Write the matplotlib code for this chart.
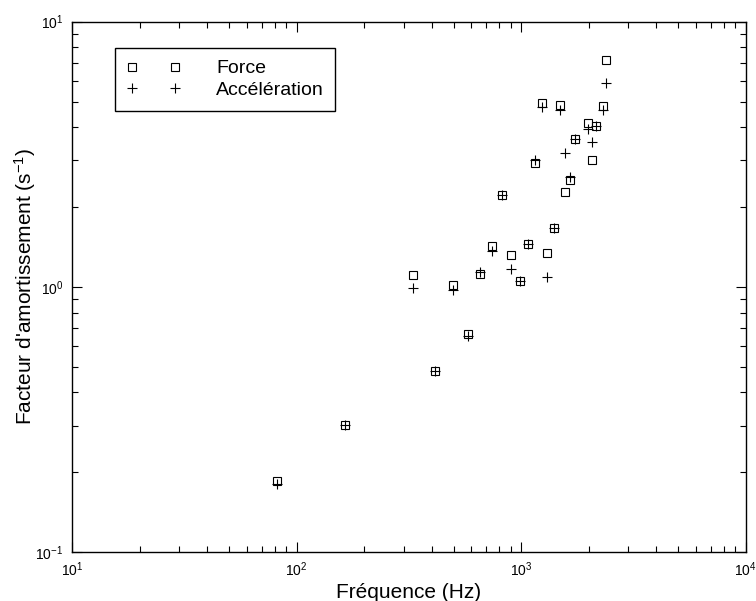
import matplotlib
matplotlib.use("Agg")
import matplotlib.pyplot as plt
import numpy as np

plt.rcParams['font.family'] = ['Liberation Sans', 'DejaVu Sans']
plt.rcParams['mathtext.fontset'] = 'custom'
plt.rcParams['mathtext.rm'] = 'Liberation Sans'
plt.rcParams['mathtext.it'] = 'Liberation Sans'
plt.rcParams['mathtext.default'] = 'regular'

# Frequencies (Hz) and damping factors (1/s)
freq = [82, 165, 330, 413, 495, 578, 658, 739, 824, 903, 988, 1072, 1156,
        1238, 1307, 1400, 1484, 1567, 1649, 1737, 1977, 2066, 2153, 2322, 2394]
force = [0.185, 0.301, 1.106, 0.482, 1.02, 0.665, 1.116, 1.42, 2.23, 1.314,
         1.05, 1.449, 2.94, 4.95, 1.337, 1.66, 4.85, 2.28, 2.53, 3.61, 4.14,
         3.02, 4.03, 4.82, 7.19]
accel = [0.181, 0.301, 0.99, 0.482, 0.977, 0.652, 1.135, 1.37, 2.23, 1.17,
         1.05, 1.449, 3.0, 4.75, 1.09, 1.66, 4.65, 3.19, 2.60, 3.61, 3.93,
         3.52, 4.03, 4.65, 5.89]
labels = ['Force', 'Accélération']

fig = plt.figure(figsize=(7.56, 6.01), dpi=100)
ax = fig.add_axes([0.0952, 0.0815, 0.8912, 0.8824])

ax.plot(freq, force, linestyle='none', marker='s', ms=5.5, mfc='none',
        mec='black', mew=0.8, label=labels[0])
ax.plot(freq, accel, linestyle='none', marker='+', ms=6.5,
        mec='black', mew=0.8, label=labels[1])

ax.set_xscale('log')
ax.set_yscale('log')
ax.set_xlim(10, 1e4)
ax.set_ylim(0.1, 10)

ax.tick_params(which='both', direction='in', top=True, right=True,
               labelsize=10, pad=6, width=0.8)
ax.tick_params(which='major', length=7)
ax.tick_params(which='minor', length=4)
for s in ax.spines.values():
    s.set_linewidth(1.0)

ax.set_xlabel('Fréquence (Hz)', fontsize=15, labelpad=3)
ax.set_ylabel("Facteur d'amortissement (s$^{-1}$)", fontsize=15, labelpad=-2)

leg = ax.legend(loc='upper left', bbox_to_anchor=(0.0638, 0.950),
                borderaxespad=0, numpoints=2, handlelength=2.8,
                handletextpad=1.8, borderpad=0.6, labelspacing=0.2,
                fontsize=14, fancybox=False, framealpha=1,
                edgecolor='black')
leg.get_frame().set_linewidth(1.0)

fig.savefig('out.png', dpi=100)
